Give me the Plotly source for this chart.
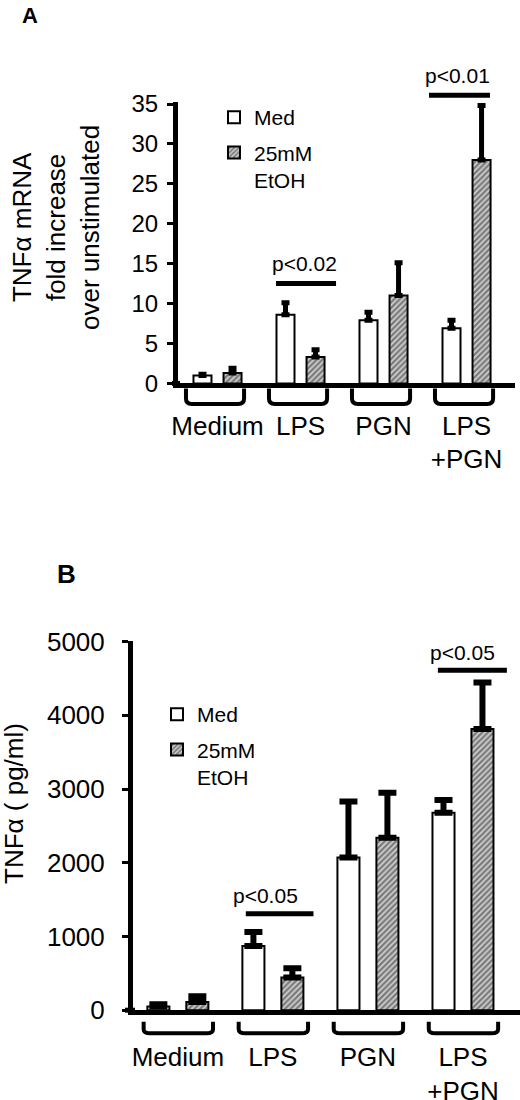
import plotly.graph_objects as go

groups = ["Medium", "LPS", "PGN", "LPS<br>+PGN"]
series = ["Med", "25mM<br>EtOH"]

# A: TNFa mRNA, fold increase over unstimulated
a_med = [1.0, 8.6, 7.9, 6.9]
a_med_err = [0.15, 1.5, 1.0, 1.0]
a_etoh = [1.3, 3.3, 11.0, 28.0]
a_etoh_err = [0.6, 0.9, 4.1, 6.8]

# B: TNFa protein, pg/ml
b_med = [50, 870, 2070, 2680]
b_med_err = [30, 190, 760, 170]
b_etoh = [110, 445, 2340, 3815]
b_etoh_err = [80, 125, 610, 630]

# significance: group index, bar height, label
a_sig_group = [1, 3]
a_sig_y = [12.5, 36.1]
a_sig_text = ["p<0.02", "p<0.01"]
b_sig_group = [1, 3]
b_sig_y = [1310, 4610]
b_sig_text = ["p<0.05", "p<0.05"]

FONT = "Liberation Sans, Arial, sans-serif"
HATCH = dict(shape="/", size=4, solidity=0.55, fgcolor="#222222", bgcolor="#d0d0d0")
pos = list(range(len(groups)))

ytop_a = 35.2
ytop_b = 5015

W, H = 520, 1100


def X(px):
    return px / W


def Y(py):
    return 1 - py / H


fig = go.Figure()


def add_pair(med, med_err, etoh, etoh_err, xa, ya, legend, w, half, errw, errt):
    zeros = [0] * len(med)
    fig.add_trace(go.Bar(
        x=pos, y=med, name=series[0], xaxis=xa, yaxis=ya, legend=legend,
        legendgroup=legend + "med",
        width=w, offset=-half - w / 2,
        marker=dict(color="white", line=dict(color="black", width=2)),
        error_y=dict(type="data", array=med_err, arrayminus=zeros, symmetric=False,
                     color="black", thickness=errt, width=errw),
    ))
    fig.add_trace(go.Bar(
        x=pos, y=etoh, name=series[1], xaxis=xa, yaxis=ya, legend=legend,
        legendgroup=legend + "etoh",
        width=w, offset=half - w / 2,
        marker=dict(color="#d0d0d0", pattern=HATCH, line=dict(color="black", width=2)),
        error_y=dict(type="data", array=etoh_err, arrayminus=zeros, symmetric=False,
                     color="black", thickness=errt, width=errw),
    ))


add_pair(a_med, a_med_err, a_etoh, a_etoh_err, "x", "y", "legend", 0.217, 0.181, 4, 5)
add_pair(b_med, b_med_err, b_etoh, b_etoh_err, "x2", "y2", "legend2", 0.232, 0.205, 9, 6)

shapes = []
annotations = []


# brackets under each group
def bracket(g, lo, hi, ytop, ybot, xa, rx):
    a, b = g + lo, g + hi
    r = (ytop - ybot) * 0.35
    path = (f"M{a},{ytop} L{a},{ybot + r} Q{a},{ybot} {a + rx},{ybot} "
            f"L{b - rx},{ybot} Q{b},{ybot} {b},{ybot + r} L{b},{ytop}")
    return dict(type="path", path=path, xref=xa, yref="paper",
                line=dict(color="black", width=4))


for g in pos:
    shapes.append(bracket(g, -0.38, 0.32, Y(388.6), Y(404), "x", 0.07))
    shapes.append(bracket(g, -0.36, 0.37, Y(1021.8), Y(1033.3), "x2", 0.07))

# x axis line pokes out a little left of the y axis
shapes.append(dict(type="line", xref="paper", yref="paper", x0=X(172), x1=X(180),
                   y0=Y(383.4), y1=Y(383.4), line=dict(color="black", width=5)))
shapes.append(dict(type="line", xref="paper", yref="paper", x0=X(125), x1=X(135),
                   y0=Y(1010.2), y1=Y(1010.2), line=dict(color="black", width=5)))

# significance lines and labels
for g, y, t, lo, hi, tx in zip(a_sig_group, a_sig_y, a_sig_text,
                               [-0.295, -0.452], [0.428, 0.283], [0.042, -0.114]):
    shapes.append(dict(type="line", xref="x", yref="y domain", x0=g + lo, x1=g + hi,
                       y0=y / ytop_a, y1=y / ytop_a, line=dict(color="black", width=5)))
    annotations.append(dict(text=t, xref="x", yref="y domain", x=g + tx, y=y / ytop_a,
                            xanchor="center", yanchor="middle",
                            yshift=20, showarrow=False, font=dict(size=21)))

for g, y, t, lo, hi, tx in zip(b_sig_group, b_sig_y, b_sig_text,
                               [-0.285, -0.264], [0.427, 0.462], [-0.082, -0.008]):
    shapes.append(dict(type="line", xref="x2", yref="y2 domain", x0=g + lo, x1=g + hi,
                       y0=y / ytop_b, y1=y / ytop_b, line=dict(color="black", width=5)))
    annotations.append(dict(text=t, xref="x2", yref="y2 domain", x=g + tx, y=y / ytop_b,
                            xanchor="center", yanchor="middle",
                            yshift=18, showarrow=False, font=dict(size=21)))

# panel letters and y titles
mid = dict(xref="paper", yref="paper", xanchor="center", yanchor="middle", showarrow=False)
annotations += [
    dict(mid, text="<b>A</b>", x=X(30), y=Y(15), font=dict(size=22)),
    dict(mid, text="<b>B</b>", x=X(66.7), y=Y(573.7), font=dict(size=26)),
    dict(mid, text="TNFα mRNA<br>fold increase<br>over unstimulated",
         x=X(56), y=Y(228), textangle=-90, font=dict(size=26)),
    dict(mid, text="TNFα ( pg/ml)", x=X(14), y=Y(804), textangle=-90, font=dict(size=26)),
]

xcommon = dict(type="linear", tickvals=pos, ticktext=groups, ticks="", showline=True,
               linewidth=5, linecolor="black", showgrid=False, zeroline=False,
               tickfont=dict(size=26), automargin=False, fixedrange=True)
ycommon = dict(showline=True, linewidth=5, linecolor="black", ticks="outside", ticklen=6,
               tickwidth=3, tickcolor="black", showgrid=False, zeroline=False,
               automargin=False, fixedrange=True)

legcommon = dict(bgcolor="rgba(0,0,0,0)", font=dict(size=21), valign="top",
                 xanchor="left", yanchor="top", tracegroupgap=5)

fig.update_layout(
    width=W, height=H,
    margin=dict(l=0, r=0, t=0, b=0),
    paper_bgcolor="white", plot_bgcolor="white",
    font=dict(family=FONT, color="black"),
    barmode="group",
    xaxis=dict(xcommon, domain=[X(178), X(515)], range=[-0.476, 3.584], anchor="y",
               ticklabelstandoff=15),
    yaxis=dict(ycommon, domain=[Y(383.4), Y(102.4)], range=[0, ytop_a], dtick=5, anchor="x",
               tickfont=dict(size=24), ticklabelstandoff=4),
    xaxis2=dict(xcommon, domain=[X(133), X(520)], range=[-0.472, 3.60], anchor="y2",
                ticklabelstandoff=20),
    yaxis2=dict(ycommon, domain=[Y(1010.2), Y(640.5)], range=[0, ytop_b], dtick=1000,
                anchor="x2", tickfont=dict(size=26), ticklabelstandoff=12),
    legend=dict(legcommon, x=X(214), y=Y(97)),
    legend2=dict(legcommon, x=X(157), y=Y(694)),
    shapes=shapes,
    annotations=annotations,
)

# drop the browser's default body margin so the figure fills the window
fig.write_html("out.html", config={"displayModeBar": False},
               post_script="document.body.style.margin = '0';")
